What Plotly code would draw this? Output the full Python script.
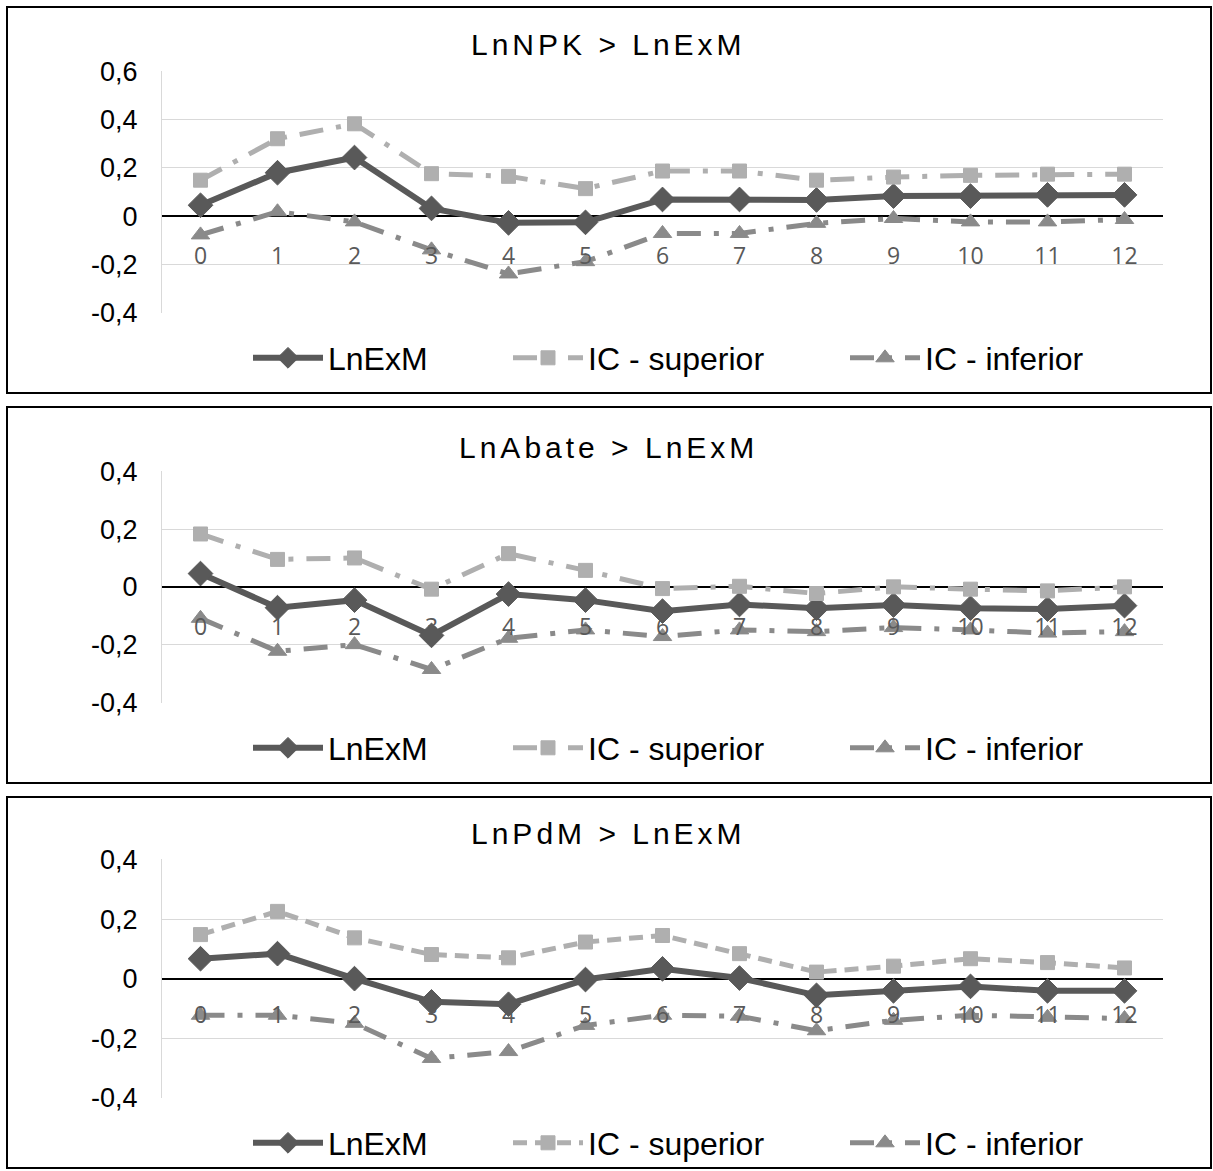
import plotly.graph_objects as go

W, H = 1213, 1171

categories = [str(i) for i in range(13)]

# Panel 1: LnNPK > LnExM
npk_exm = [0.045, 0.18, 0.243, 0.032, -0.028, -0.026, 0.069, 0.069, 0.067, 0.083, 0.083, 0.088, 0.088]
npk_sup = [0.149, 0.321, 0.383, 0.176, 0.165, 0.114, 0.187, 0.187, 0.149, 0.162, 0.169, 0.174, 0.174]
npk_inf = [-0.078, 0.018, -0.024, -0.14, -0.24, -0.189, -0.072, -0.072, -0.03, -0.01, -0.024, -0.024, -0.014]

# Panel 2: LnAbate > LnExM
abate_exm = [0.046, -0.072, -0.046, -0.168, -0.025, -0.046, -0.084, -0.061, -0.074, -0.063, -0.074, -0.077, -0.065]
abate_sup = [0.183, 0.095, 0.10, -0.008, 0.115, 0.057, -0.006, 0.002, -0.023, 0.0, -0.008, -0.014, 0.0]
abate_inf = [-0.109, -0.223, -0.2, -0.286, -0.178, -0.149, -0.172, -0.149, -0.155, -0.141, -0.149, -0.16, -0.155]

# Panel 3: LnPdM > LnExM
pdm_exm = [0.067, 0.084, 0.0, -0.078, -0.086, -0.003, 0.033, 0.002, -0.056, -0.041, -0.026, -0.041, -0.041]
pdm_sup = [0.148, 0.226, 0.137, 0.081, 0.07, 0.123, 0.145, 0.084, 0.022, 0.042, 0.067, 0.054, 0.036]
pdm_inf = [-0.123, -0.123, -0.15, -0.268, -0.245, -0.157, -0.123, -0.126, -0.175, -0.14, -0.123, -0.13, -0.134]

titles = ["LnNPK > LnExM", "LnAbate > LnExM", "LnPdM > LnExM"]
series_names = ["LnExM", "IC - superior", "IC - inferior"]

y_ranges = [(-0.4, 0.6), (-0.4, 0.4), (-0.4, 0.4)]
tick_vals_1 = [-0.4, -0.2, 0, 0.2, 0.4, 0.6]
tick_text_1 = ["-0,4", "-0,2", "0", "0,2", "0,4", "0,6"]
tick_vals_2 = [-0.4, -0.2, 0, 0.2, 0.4]
tick_text_2 = ["-0,4", "-0,2", "0", "0,2", "0,4"]

# ---- layout geometry (pixels) ----
plot_left, plot_right = 162, 1163
plot_tops = [71, 470.7, 859]
plot_bottoms = [313, 703, 1098.3]
title_y = [45, 447, 833]
legend_y = [358, 748, 1143]
boxes = [(7, 393), (407, 783), (797, 1168)]
xlabel_standoff = [24, 24, 20]

C_EXM = "#595959"
C_SUP = "#AFAFAF"
C_INF = "#8A8A8A"
FONT = "Liberation Sans, Arial, sans-serif"

def py(px):
    return 1 - px / H

def px_x(px):
    return px / W

data_sets = [
    (npk_exm, npk_sup, npk_inf),
    (abate_exm, abate_sup, abate_inf),
    (pdm_exm, pdm_sup, pdm_inf),
]
sup_dash = ["24px,13px,5px,13px", "24px,13px,5px,13px", "14px,8px"]
inf_dash = ["24px,13px,5px,13px", "24px,13px,5px,13px", "24px,13px,5px,13px"]
leg_widths = [175, 252, 200]

fig = go.Figure()

for i, (exm, sup, inf) in enumerate(data_sets):
    n = "" if i == 0 else str(i + 1)
    xa, ya = "x" + n, "y" + n
    lg = "legend" + n
    fig.add_trace(go.Scatter(
        x=categories, y=exm, name=series_names[0], xaxis=xa, yaxis=ya, legend=lg,
        mode="lines+markers", legendwidth=leg_widths[0],
        line=dict(color=C_EXM, width=6),
        marker=dict(symbol="diamond", size=19, color=C_EXM, line=dict(color=C_EXM, width=1)),
    ))
    fig.add_trace(go.Scatter(
        x=categories, y=sup, name=series_names[1], xaxis=xa, yaxis=ya, legend=lg,
        mode="lines+markers", legendwidth=leg_widths[1],
        line=dict(color=C_SUP, width=5, dash=sup_dash[i]),
        marker=dict(symbol="square", size=14, color=C_SUP, line=dict(color=C_SUP, width=1)),
    ))
    fig.add_trace(go.Scatter(
        x=categories, y=inf, name=series_names[2], xaxis=xa, yaxis=ya, legend=lg,
        mode="lines+markers", legendwidth=leg_widths[2],
        line=dict(color=C_INF, width=5, dash=inf_dash[i]),
        marker=dict(symbol="triangle-up", size=16, color=C_INF, line=dict(color=C_INF, width=1)),
    ))

layout = dict(
    width=W, height=H,
    margin=dict(l=0, r=0, t=0, b=0, autoexpand=False),
    paper_bgcolor="white", plot_bgcolor="white",
    font=dict(family=FONT, color="black"),
    showlegend=True,
    shapes=[], annotations=[],
)

for i in range(3):
    n = "" if i == 0 else str(i + 1)
    y0, y1 = y_ranges[i]
    dom_y = [py(plot_bottoms[i]), py(plot_tops[i])]
    zero_frac = dom_y[0] + (0 - y0) / (y1 - y0) * (dom_y[1] - dom_y[0])
    tv = tick_vals_1 if i == 0 else tick_vals_2
    tt = tick_text_1 if i == 0 else tick_text_2
    layout["xaxis" + n] = dict(
        domain=[px_x(plot_left), px_x(plot_right)],
        anchor="free", position=zero_frac,
        type="category", categoryorder="array", categoryarray=categories,
        range=[-0.5, 12.5],
        showgrid=False, zeroline=False, showline=False,
        ticks="", ticklabelstandoff=xlabel_standoff[i],
        tickfont=dict(family="Open Sans, sans-serif", size=23, color="#595959"),
        fixedrange=True,
    )
    layout["yaxis" + n] = dict(
        domain=dom_y,
        anchor="x" + n,
        range=[y0 - 0.002, y1 + 0.002],
        tickvals=tv, ticktext=tt,
        showgrid=True, gridcolor="#D9D9D9", gridwidth=1.3,
        zeroline=True, zerolinecolor="black", zerolinewidth=2,
        showline=True, linecolor="#D9D9D9", linewidth=1.3,
        ticks="", ticklabelstandoff=18,
        tickfont=dict(family=FONT, size=27, color="black"),
        fixedrange=True,
    )
    layout["legend" + n] = dict(
        orientation="h", xanchor="left", yanchor="middle",
        x=px_x(248), y=py(legend_y[i]),
        font=dict(family=FONT, size=32, color="black"),
        bgcolor="rgba(0,0,0,0)", itemwidth=70,
        traceorder="normal",
    )
    layout["annotations"].append(dict(
        xref="paper", yref="paper", x=0.502, y=py(title_y[i]),
        xanchor="center", yanchor="middle", showarrow=False,
        text='<span style="letter-spacing:4px">' + titles[i] + '</span>',
        font=dict(family=FONT, size=30, color="black"),
    ))
    b0, b1 = boxes[i]
    layout["shapes"].append(dict(
        type="rect", xref="paper", yref="paper",
        x0=px_x(7), x1=px_x(1211), y0=py(b1), y1=py(b0),
        line=dict(color="black", width=2), fillcolor="rgba(0,0,0,0)", layer="above",
    ))

fig.update_layout(**layout)
fig.write_html("out.html")
